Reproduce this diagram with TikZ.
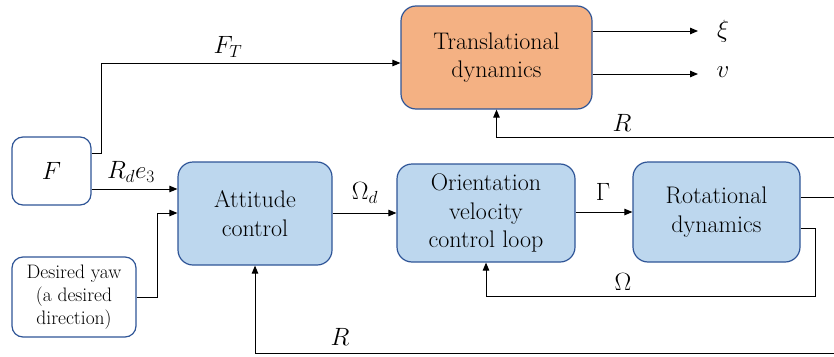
\documentclass[tikz,border=0pt]{standalone}
\usepackage{fix-cm}
\usepackage{fontspec}
\usetikzlibrary{arrows.meta}
\definecolor{boxblue}{HTML}{BDD7EE}
\definecolor{boxorange}{HTML}{F4B183}
\definecolor{edgeblue}{HTML}{2F5597}
\tikzset{
  block/.style={draw=edgeblue, line width=1.2pt, rounded corners=15pt, fill=boxblue,
    align=center, inner sep=2pt, font=\rmfamily\fontsize{24}{28.5}\selectfont},
  inbox/.style={draw=edgeblue, line width=1.2pt, rounded corners=11pt, fill=white,
    align=center, inner sep=2pt},
  arr/.style={draw=black, line width=1pt, -{Triangle[length=8pt,width=6.5pt]}},
  wire/.style={draw=black, line width=1pt},
  lbl/.style={inner sep=0pt, font=\fontsize{25}{29}\selectfont}
}
\begin{document}
\begin{tikzpicture}[x=1pt, y=-1pt]
\useasboundingbox (0,0) rectangle (834,356);

% blocks
\node[block, fill=boxorange, minimum width=191pt, minimum height=103pt] (trans) at (496.5,57.5) {Translational\\dynamics};
\node[inbox, minimum width=79pt, minimum height=68pt] (F) at (51.5,171) {\fontsize{25}{29}\selectfont$F$};
\node[inbox, minimum width=124pt, minimum height=80pt, font=\rmfamily\fontsize{19.5}{23}\selectfont] (yaw) at (74,297) {Desired yaw\\(a desired\\direction)};
\node[block, minimum width=154pt, minimum height=103pt] (att) at (255,213.5) {Attitude\\control};
\node[block, minimum width=178pt, minimum height=98pt] (ori) at (486,213) {Orientation\\velocity\\control loop};
\node[block, minimum width=167pt, minimum height=100pt] (rot) at (716.5,212) {Rotational\\dynamics};

% output labels
\node[lbl] (xi) at (723,31) {$\xi$};
\node[lbl] (vel) at (723,72) {$v$};
\coordinate (xiend) at (698,31);
\coordinate (vend) at (698,74);

% bend points and open ends
\coordinate (ftb) at (101,153);
\coordinate (yb) at (157,213);
\coordinate (rtop) at (834,137);
\coordinate (rout) at (834,197);
\coordinate (rbot) at (834,353);
\coordinate (wb) at (815,296);

% forward path
\draw[arr] (F.east |- ftb) -- (ftb) |- (trans.west |- 0,63);
\draw[arr] (F.east |- 0,189) -- (att.west |- 0,189);
\draw[arr] (yaw.east) -| (yb) -- (att.west |- yb);
\draw[arr] (att.east |- 0,213) -- (ori.west |- 0,213);
\draw[arr] (ori.east |- 0,212) -- (rot.west |- 0,212);
\draw[arr] (trans.east |- xiend) -- (xiend);
\draw[arr] (trans.east |- vend) -- (vend);
\draw[wire] (rot.east |- rout) -- (rout);

% feedback paths
\draw[arr] (rtop) -| (trans.south);
\draw[arr] (rot.east |- 0,228) -| (wb) -| (ori.south);
\draw[arr] (rbot) -| (att.south);

% signal labels
\node[lbl] (lft) at (228,47) {$F_T$};
\node[lbl] (lrd) at (131,172) {$R_d e_3$};
\node[lbl] (lwd) at (365,193) {$\Omega_d$};
\node[lbl] (lg) at (603,192) {$\Gamma$};
\node[lbl] (lr1) at (622,123) {$R$};
\node[lbl] (lw) at (623,282) {$\Omega$};
\node[lbl] (lr2) at (340,337) {$R$};
\end{tikzpicture}
\end{document}
